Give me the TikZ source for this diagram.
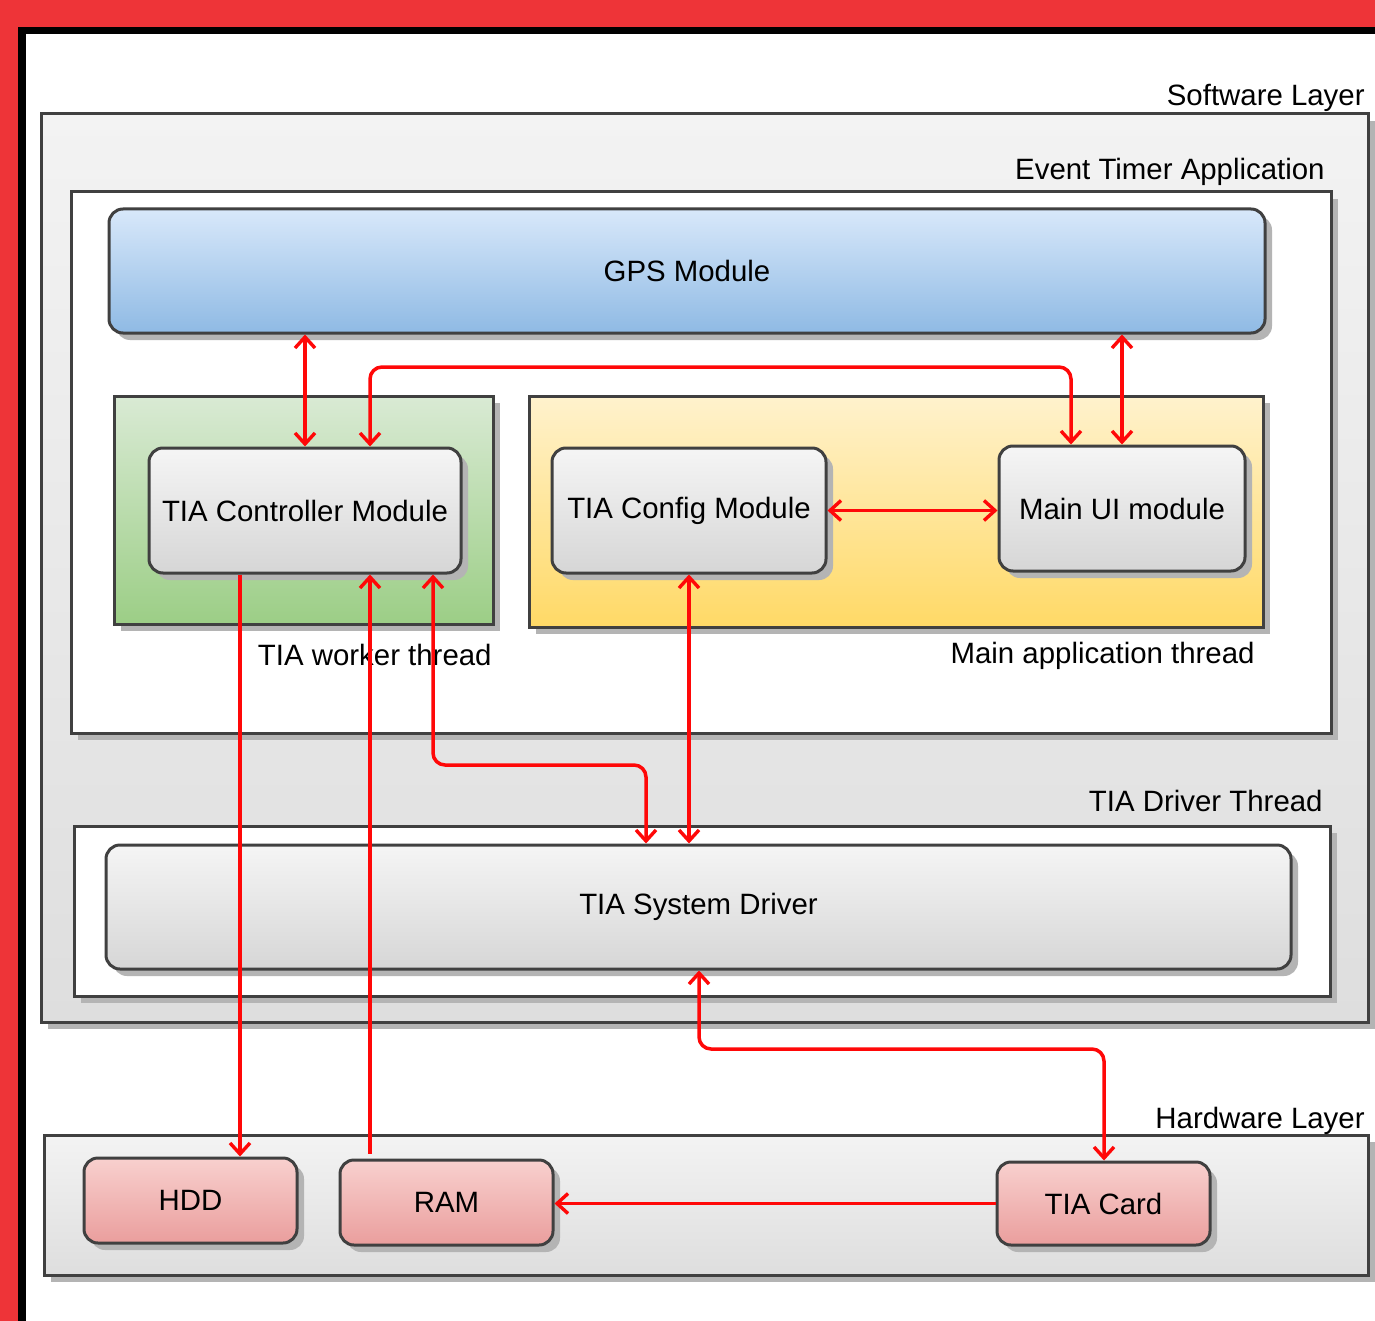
\documentclass[tikz,border=0pt]{standalone}
\usepackage{fontspec}
\setmainfont{Liberation Sans}
\usetikzlibrary{fit,shadows,arrows.meta,calc}
\definecolor{framered}{RGB}{238,52,56}
\definecolor{boxline}{RGB}{64,64,64}
\definecolor{shadowgray}{RGB}{180,180,180}
\definecolor{arrred}{RGB}{255,8,8}
\definecolor{layertop}{RGB}{243,243,243}
\definecolor{layerbot}{RGB}{222,222,222}
\definecolor{bluetop}{RGB}{216,232,250}
\definecolor{bluebot}{RGB}{143,186,228}
\definecolor{greentop}{RGB}{217,234,212}
\definecolor{greenbot}{RGB}{156,206,134}
\definecolor{yellowtop}{RGB}{255,242,205}
\definecolor{yellowbot}{RGB}{255,217,102}
\definecolor{greytop}{RGB}{245,245,245}
\definecolor{greybot}{RGB}{214,214,214}
\definecolor{pinktop}{RGB}{248,208,206}
\definecolor{pinkbot}{RGB}{234,158,157}
\tikzset{
  container/.style={draw=boxline, line width=1.5pt, inner sep=0pt,
    drop shadow={shadow xshift=3.5pt, shadow yshift=-3.5pt, fill=shadowgray, opacity=1}},
  plainbox/.style={container, fill=white},
  layerbox/.style={container, top color=layertop, bottom color=layerbot},
  modbox/.style={container, rounded corners=7pt},
  caption/.style={anchor=base east, inner sep=0pt},
  tip/.tip={Straight Barb[length=5.5pt,width=10pt,line width=1.7pt]},
  conn/.style={draw=arrred, line width=1.75pt, rounded corners=6pt},
  both/.style={conn, tip-tip},
  tohead/.style={conn, -tip},
}
\begin{document}
\begin{tikzpicture}[x=0.5pt,y=-0.5pt,font=\fontsize{14.7pt}{17pt}\selectfont]
\useasboundingbox (0,0) rectangle (1375,1321);
\fill[framered] (0,0) rectangle (1375,1321);
\fill[black] (18,27) rectangle (1375,1321);
\fill[white] (26,34) rectangle (1375,1321);

% x / y reference coordinates
\coordinate (xa) at (305,0);
\coordinate (xb) at (370,0);
\coordinate (xc) at (1071,0);
\coordinate (xd) at (1122,0);
\coordinate (xe) at (240,0);
\coordinate (xf) at (433,0);
\coordinate (xg) at (646,0);
\coordinate (xh) at (689,0);
\coordinate (xi) at (699,0);
\coordinate (xj) at (1104,0);
\coordinate (yloop) at (0,367);
\coordinate (ymid) at (0,765);
\coordinate (ylow) at (0,1049);

% Software layer
\node[layerbox, fit={(41,114) (1368,1022)}] (sw) {};
\node[caption] (swl) at (1365,106) {Software Layer};

% Event timer application
\node[plainbox, fit={(71,192) (1331,733)}] (eta) {};
\node[caption] (etal) at (1325,180) {Event Timer Application};

% GPS module
\node[modbox, top color=bluetop, bottom color=bluebot, fit={(109,209) (1265,333)},
  label=center:{GPS Module}] (gps) {};

% threads
\node[container, top color=greentop, bottom color=greenbot, fit={(114,396) (493,624)}] (wt) {};
\node[caption] (wtl) at (492,665) {TIA worker thread};
\node[container, top color=yellowtop, bottom color=yellowbot, fit={(529,396) (1263,627)}] (mt) {};
\node[caption] (mtl) at (1255,663) {Main application thread};

% modules
\node[modbox, top color=greytop, bottom color=greybot, fit={(149,448) (461,573)},
  label=center:{TIA Controller Module}] (ctrl) {};
\node[modbox, top color=greytop, bottom color=greybot, fit={(552,448) (826,573)},
  label=center:{TIA Config Module}] (cfg) {};
\node[modbox, top color=greytop, bottom color=greybot, fit={(999,446) (1245,571)},
  label=center:{Main UI module}] (ui) {};

% driver thread
\node[plainbox, fit={(74,826) (1330,996)}] (dt) {};
\node[caption] (dtl) at (1323,811) {TIA Driver Thread};
\node[modbox, top color=greytop, bottom color=greybot, fit={(106,845) (1291,969)},
  label=center:{TIA System Driver}] (drv) {};

% hardware layer
\node[layerbox, fit={(44,1135) (1368,1275)}] (hw) {};
\node[caption] (hwl) at (1365,1128) {Hardware Layer};
\node[modbox, top color=pinktop, bottom color=pinkbot, fit={(84,1158) (297,1243)},
  label=center:{HDD}] (hdd) {};
\node[modbox, top color=pinktop, bottom color=pinkbot, fit={(340,1160) (553,1245)},
  label=center:{RAM}] (ram) {};
\node[modbox, top color=pinktop, bottom color=pinkbot, fit={(997,1162) (1210,1245)},
  label=center:{TIA Card}] (card) {};

% connectors
\draw[both] (gps.south -| xa) -- (ctrl.north -| xa);
\draw[both] (ctrl.north -| xb) -- (xb |- yloop) -- (xc |- yloop) -- (ui.north -| xc);
\draw[both] (gps.south -| xd) -- (ui.north -| xd);
\draw[both] (cfg.east) -- (cfg.east -| ui.west);
\draw[tohead] (ctrl.south -| xe) -- (hdd.north -| xe);
\draw[tohead] ([yshift=2.5pt]ram.north -| xb) -- (ctrl.south -| xb);
\draw[both] (ctrl.south -| xf) -- (xf |- ymid) -- (xg |- ymid) -- (drv.north -| xg);
\draw[both] (cfg.south -| xh) -- (drv.north -| xh);
\draw[both] (drv.south -| xi) -- (xi |- ylow) -- (xj |- ylow) -- (card.north -| xj);
\draw[tohead] (card.west) -- (card.west -| ram.east);
\end{tikzpicture}
\end{document}
